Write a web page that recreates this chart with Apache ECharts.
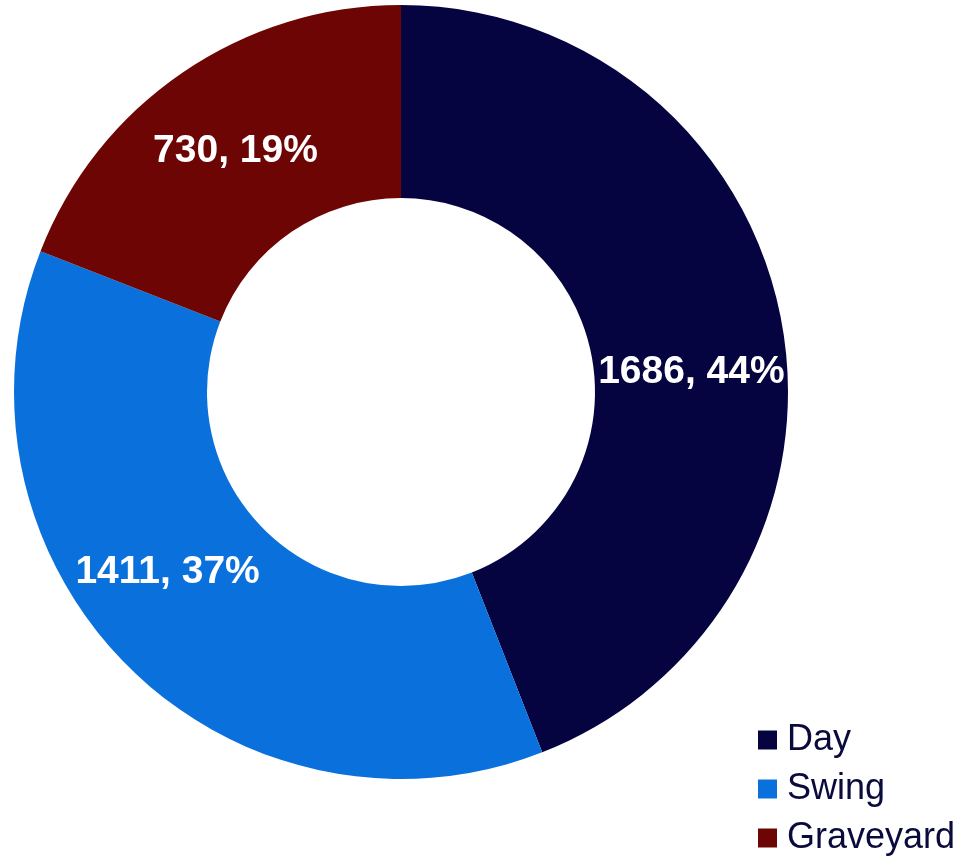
<!DOCTYPE html>
<html>
<head>
<meta charset="utf-8">
<script src="https://cdn.jsdelivr.net/npm/echarts@6/dist/echarts.min.js"></script>
<style>
  html, body { margin: 0; padding: 0; background: #fff; }
  #chart { width: 961px; height: 859px; }
</style>
</head>
<body>
<div id="chart"></div>
<script>
// Shift counts by crew
const shifts = ['Day', 'Swing', 'Graveyard'];
const counts = [1686, 1411, 730];
const colors = ['#050440', '#0A70DC', '#6E0505'];
// Label nudges for slices whose label sits off the ring midline
const labelOffsets = [[2, 35], [-26, -27], [0, 2]];

const total = counts.reduce((a, b) => a + b, 0);

const data = shifts.map((name, i) => ({
  name: name,
  value: counts[i],
  itemStyle: { color: colors[i] },
  label: { offset: labelOffsets[i] }
}));

const chart = echarts.init(document.getElementById('chart'), null, { renderer: 'canvas' });
chart.setOption({
  animation: false,
  backgroundColor: '#ffffff',
  legend: {
    orient: 'vertical',
    left: 753,
    top: 717,
    width: 220,
    height: 150,
    itemWidth: 19,
    itemHeight: 19,
    itemGap: 13,
    icon: 'rect',
    data: shifts,
    textStyle: {
      fontFamily: 'Liberation Sans, Arial, sans-serif',
      fontSize: 36,
      lineHeight: 36,
      color: '#0A0A3C',
      padding: [0, 0, 0, 5]
    }
  },
  series: [{
    type: 'pie',
    center: [401, 392],
    radius: [194, 387],
    startAngle: 90,
    clockwise: true,
    avoidLabelOverlap: false,
    label: {
      show: true,
      position: 'inside',
      formatter: p => p.value + ', ' + Math.round(p.value / total * 100) + '%',
      fontFamily: 'Liberation Sans, Arial, sans-serif',
      fontWeight: 'bold',
      fontSize: 39,
      color: '#ffffff'
    },
    labelLine: { show: false },
    emphasis: { disabled: true },
    data: data
  }]
});
</script>
</body>
</html>
